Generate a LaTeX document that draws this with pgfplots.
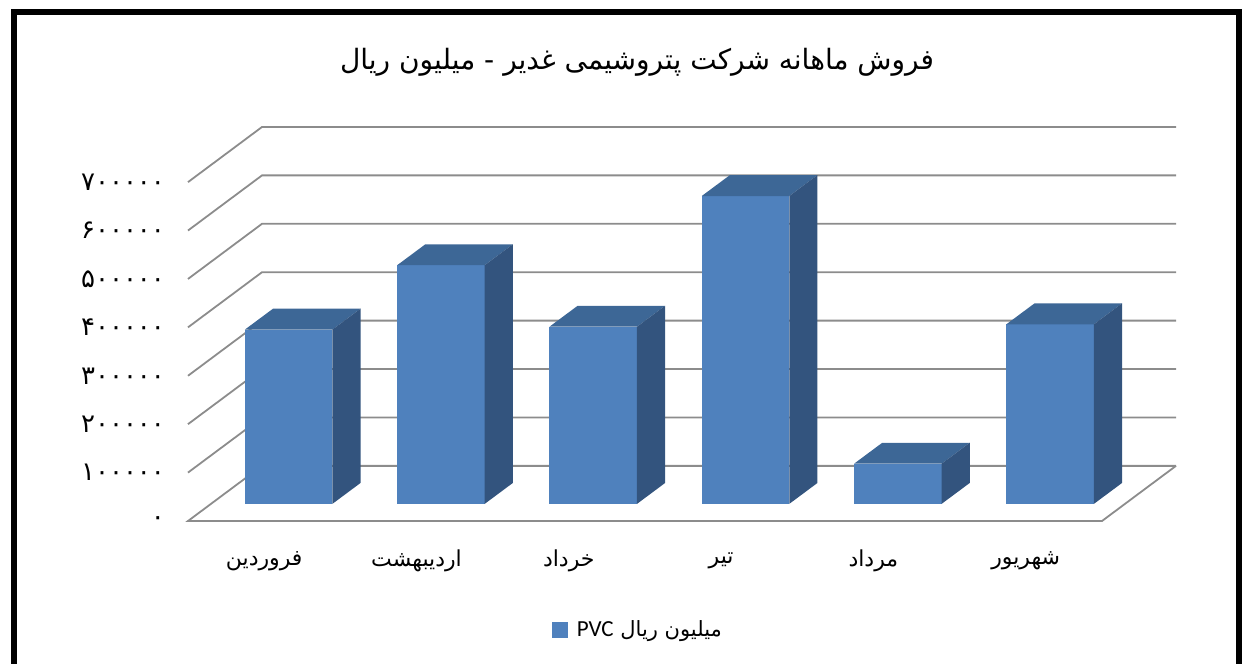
\documentclass[border=0pt]{standalone}
\usepackage{fontspec}
\usepackage{pgfplots}
\pgfplotsset{compat=1.18}
\usepackage{pgfplotstable}
\usepackage{xfp}
\setmainfont{Liberation Sans}
\newfontfamily\arabicfont[Script=Arabic]{DejaVu Sans}
\newfontfamily\latinfont{Carlito}
\TeXXeTstate=1
\definecolor{barfront}{HTML}{4F81BD}
\definecolor{bartop}{HTML}{3D6796}
\definecolor{barside}{HTML}{33547E}
\definecolor{gridgray}{HTML}{8C8C8C}

\pgfplotstableread{
idx value
0 360000
1 493000
2 366000
3 636000
4 83000
5 371000
}\salestable

\begin{document}
\begin{tikzpicture}
\useasboundingbox (0,0) rectangle (624pt,332pt);
\draw[line width=3pt] (7pt,-10pt) -- (7pt,326pt) -- (619.5pt,326pt) -- (619.5pt,-10pt);
\node at (318.5pt,301pt) {\arabicfont\fontsize{14}{16}\selectfont\beginR فروش ماهانه شرکت پتروشیمی غدیر - میلیون ریال\endR};
\begin{axis}[
  at={(94pt,71.5pt)}, anchor=south west,
  scale only axis, width=494pt, height=197pt,
  xmin=188, xmax=1176, ymin=0, ymax=813900,
  clip=false,
  axis line style={draw=none},
  tick style={draw=none},
  ytick={0,100000,200000,300000,400000,500000,600000,700000},
  yticklabels={۰,۱۰۰۰۰۰,۲۰۰۰۰۰,۳۰۰۰۰۰,۴۰۰۰۰۰,۵۰۰۰۰۰,۶۰۰۰۰۰,۷۰۰۰۰۰},
  scaled y ticks=false,
  yticklabel style={font=\arabicfont\fontsize{13}{15}\selectfont, anchor=east, xshift=-8pt},
  xtick={264.2,416.5,568.8,721.1,873.4,1025.7},
  xticklabels={{\beginR فروردین\endR},{\beginR اردیبهشت\endR},{\beginR خرداد\endR},{\beginR تیر\endR},{\beginR مرداد\endR},{\beginR شهریور\endR}},
  xticklabel style={font=\arabicfont\fontsize{11}{13}\selectfont, anchor=center, yshift=-20pt},
  legend style={at={(0.4564,-0.2766)}, anchor=center, draw=none, fill=none, font=\fontsize{10.5}{12}\selectfont},
]
% floor and walls
\addplot[gridgray, line width=0.9pt, forget plot] coordinates {(1176,113900) (1102,0) (188,0) (262,113900) (1176,113900)};
\addplot[gridgray, line width=0.9pt, forget plot] coordinates {(188,100000) (262,213900) (1176,213900)};
\addplot[gridgray, line width=0.9pt, forget plot] coordinates {(188,200000) (262,313900) (1176,313900)};
\addplot[gridgray, line width=0.9pt, forget plot] coordinates {(188,300000) (262,413900) (1176,413900)};
\addplot[gridgray, line width=0.9pt, forget plot] coordinates {(188,400000) (262,513900) (1176,513900)};
\addplot[gridgray, line width=0.9pt, forget plot] coordinates {(188,500000) (262,613900) (1176,613900)};
\addplot[gridgray, line width=0.9pt, forget plot] coordinates {(188,600000) (262,713900) (1176,713900)};
\addplot[gridgray, line width=0.9pt, forget plot] coordinates {(188,700000) (262,813900) (1176,813900)};
% bars
\pgfplotsinvokeforeach{0,...,5}{
  \pgfplotstablegetelem{#1}{value}\of\salestable
  \edef\bv{\pgfplotsretval}
  \edef\xl{\fpeval{265.7+152.3*#1-43.75+22.9}}
  \edef\xr{\fpeval{265.7+152.3*#1+43.75+22.9}}
  \edef\xlb{\fpeval{265.7+152.3*#1-43.75+51.1}}
  \edef\xrb{\fpeval{265.7+152.3*#1+43.75+51.1}}
  \edef\yt{\fpeval{\bv+35300}}
  \edef\ytb{\fpeval{\bv+78600}}
  \addplot[fill=barfront, draw=none, forget plot] coordinates {(\xl,35300) (\xl,\yt) (\xr,\yt) (\xr,35300)};
  \addplot[fill=bartop, draw=none, forget plot] coordinates {(\xl,\yt) (\xlb,\ytb) (\xrb,\ytb) (\xr,\yt)};
  \addplot[fill=barside, draw=none, forget plot] coordinates {(\xr,35300) (\xr,\yt) (\xrb,\ytb) (\xrb,78600)};
}
\addlegendimage{legend image code/.code={\fill[barfront] (0pt,-3.75pt) rectangle (7.5pt,3.75pt); \path (10pt,0pt);}}
\addlegendentry{\beginR\arabicfont میلیون ریال \beginL\latinfont\fontsize{11.5}{13}\selectfont PVC\endL\endR}
\end{axis}
\end{tikzpicture}
\end{document}
